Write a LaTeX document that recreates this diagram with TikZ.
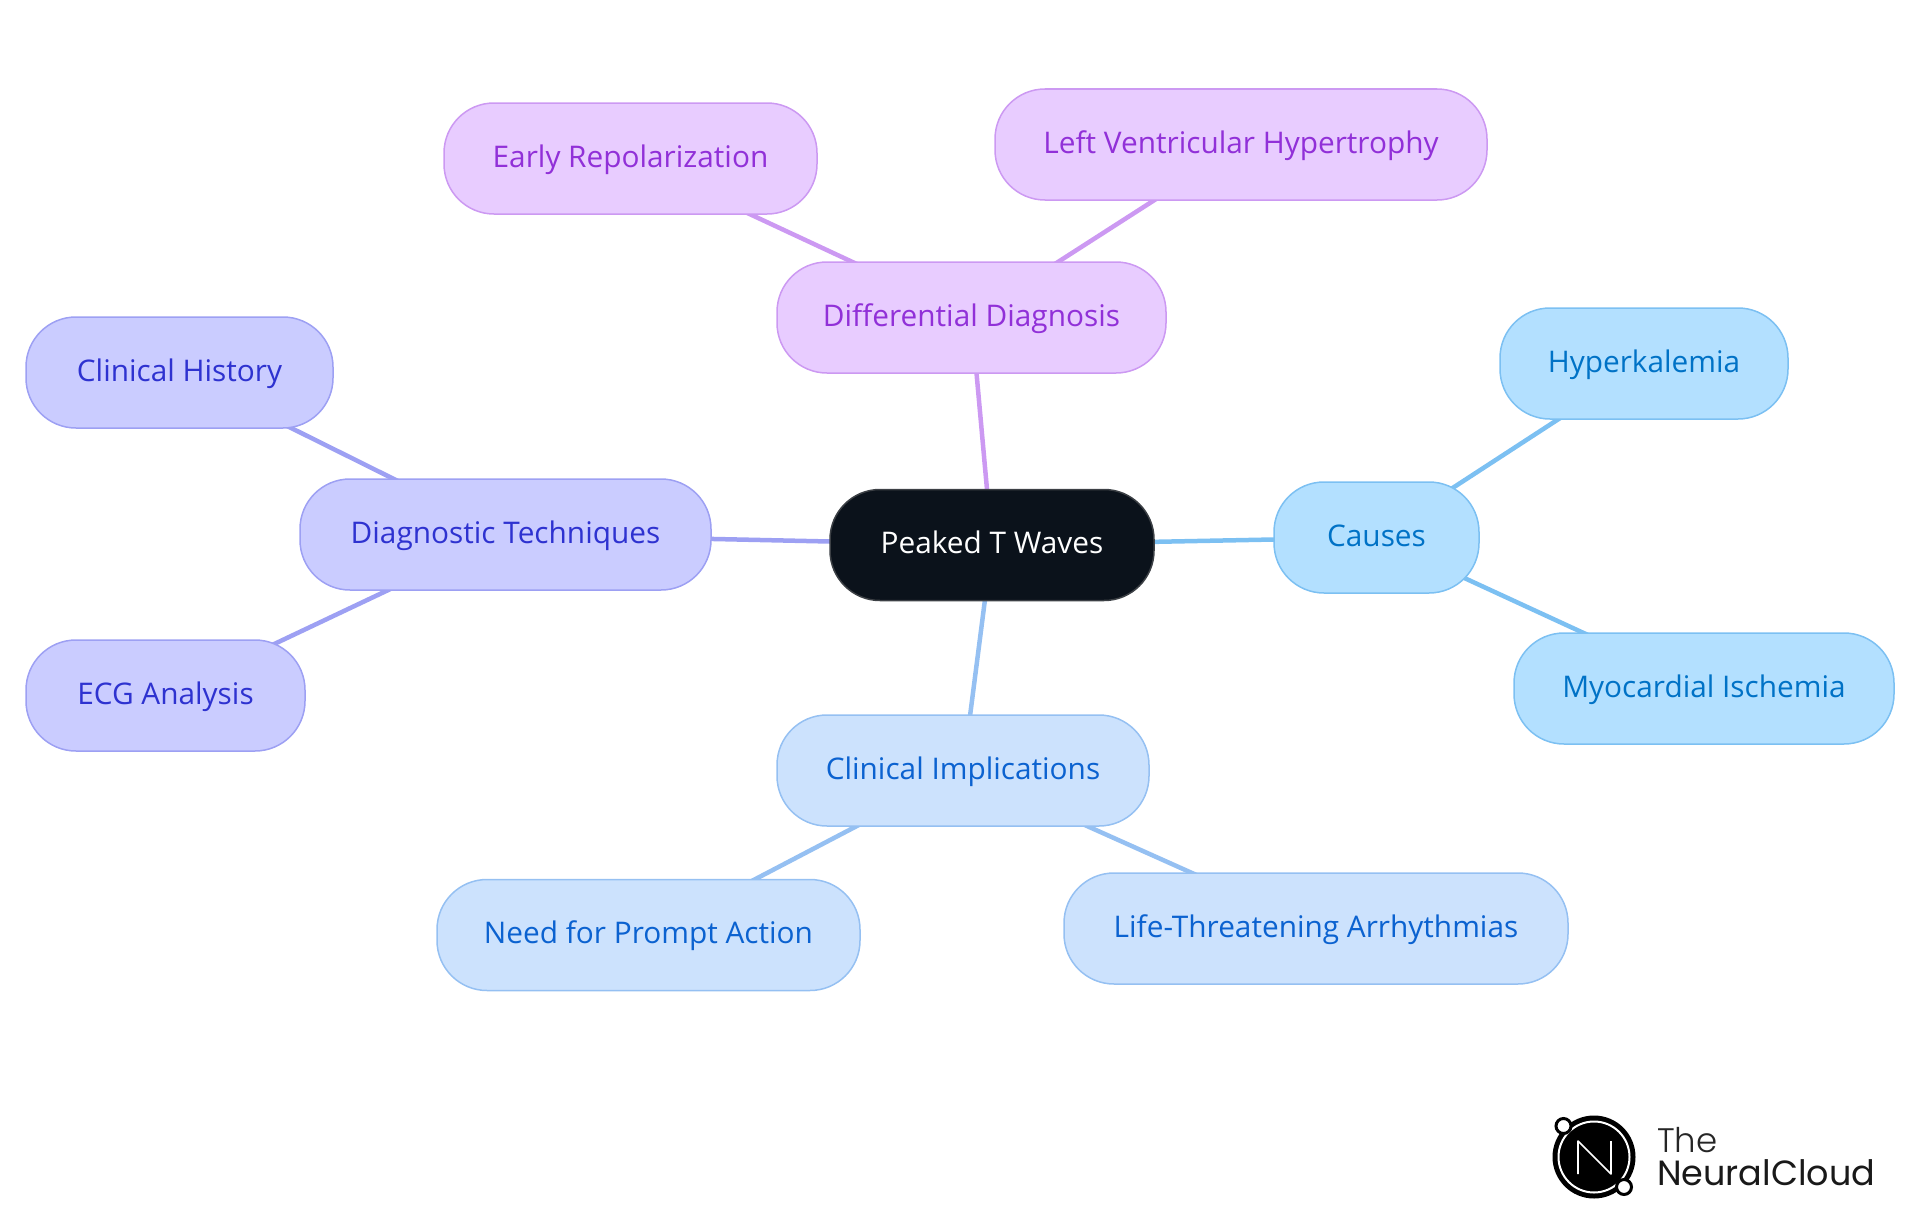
\documentclass[tikz,border=0pt]{standalone}
\usepackage{fontspec}
\setmainfont{Open Sans}
\newfontfamily\logofont{Poppins}
\newfontfamily\logolight{Poppins Light}
\usetikzlibrary{backgrounds}
\definecolor{cA}{HTML}{B3E0FF}\definecolor{cAs}{HTML}{7CC0F2}\definecolor{cAt}{HTML}{0072C6}
\definecolor{cB}{HTML}{CCE2FD}\definecolor{cBs}{HTML}{95C0F2}\definecolor{cBt}{HTML}{0B62D0}
\definecolor{cC}{HTML}{CACCFF}\definecolor{cCs}{HTML}{9DA0F3}\definecolor{cCt}{HTML}{2E32D0}
\definecolor{cD}{HTML}{E8CCFF}\definecolor{cDs}{HTML}{CC99F2}\definecolor{cDt}{HTML}{9130D8}
\definecolor{cRoot}{HTML}{0B121B}\definecolor{cRootS}{HTML}{3C4045}
\tikzset{
 pill/.style={rectangle,rounded corners=50pt,line width=1.5pt,inner sep=0pt,minimum height=111pt,text height=19.5pt,text depth=2pt,font=\fontsize{29.8}{34}\selectfont},
 famA/.style={pill,fill=cA,draw=cAs,text=cAt},
 famB/.style={pill,fill=cB,draw=cBs,text=cBt},
 famC/.style={pill,fill=cC,draw=cCs,text=cCt},
 famD/.style={pill,fill=cD,draw=cDs,text=cDt},
 rootnode/.style={pill,fill=cRoot,draw=cRootS,text=white},
 lnk/.style={line width=4.5pt},
}
\begin{document}
\begin{tikzpicture}[x=1pt,y=-1pt]
\useasboundingbox (0,0) rectangle (1920,1215);
\node[rootnode,minimum width=324pt] (root) at (992,545) {Peaked T Waves};
\node[famA,minimum width=205pt] (causes) at (1376.5,537.5) {Causes};
\node[famA,minimum width=288pt] (hyper) at (1644,363.5) {Hyperkalemia};
\node[famA,minimum width=380pt] (myo) at (1704,688.5) {Myocardial Ischemia};
\node[famB,minimum width=372pt] (impl) at (963,770.5) {Clinical Implications};
\node[famB,minimum width=423pt] (prompt) at (648.5,935) {Need for Prompt Action};
\node[famB,minimum width=504pt] (life) at (1316,928.5) {Life-Threatening Arrhythmias};
\node[famC,minimum width=411pt] (diag) at (505.5,534.5) {Diagnostic Techniques};
\node[famC,minimum width=307pt] (hist) at (179.5,372.5) {Clinical History};
\node[famC,minimum width=279pt] (ecg) at (165.5,695.5) {ECG Analysis};
\node[famD,minimum width=389pt] (ddx) at (971.5,317.5) {Differential Diagnosis};
\node[famD,minimum width=373pt] (early) at (630.5,158.5) {Early Repolarization};
\node[famD,minimum width=492pt] (lvh) at (1241,144.5) {Left Ventricular Hypertrophy};
\begin{scope}[on background layer]
\draw[lnk,cAs] (root.center) -- (causes.center);
\draw[lnk,cAs] (causes.center) -- (hyper.center);
\draw[lnk,cAs] (causes.center) -- (myo.center);
\draw[lnk,cBs] (root.center) -- (impl.center);
\draw[lnk,cBs] (impl.center) -- (prompt.center);
\draw[lnk,cBs] (impl.center) -- (life.center);
\draw[lnk,cCs] (root.center) -- (diag.center);
\draw[lnk,cCs] (diag.center) -- (hist.center);
\draw[lnk,cCs] (diag.center) -- (ecg.center);
\draw[lnk,cDs] (root.center) -- (ddx.center);
\draw[lnk,cDs] (ddx.center) -- (early.center);
\draw[lnk,cDs] (ddx.center) -- (lvh.center);
\end{scope}
% logo
\fill[black] (1594,1157) circle (41.5);
\draw[white,line width=2pt] (1594,1157) circle (35.5);
\draw[white,line width=1.6pt,line join=round] (1578,1174) -- (1578,1141) -- (1611,1174) -- (1611,1141);
\draw[black,fill=white,line width=3pt] (1563.5,1126) circle (7.5);
\draw[black,fill=white,line width=3pt] (1624,1187) circle (7.5);
\node[anchor=base west,inner sep=0pt,text=black!85,font=\logolight\fontsize{34}{36}\selectfont] (logoa) at (1657,1152) {The};
\node[anchor=base west,inner sep=0pt,text=black!90,font=\logofont\fontsize{35}{38}\selectfont] (logob) at (1657,1185) {NeuralCloud};
\end{tikzpicture}
\end{document}
